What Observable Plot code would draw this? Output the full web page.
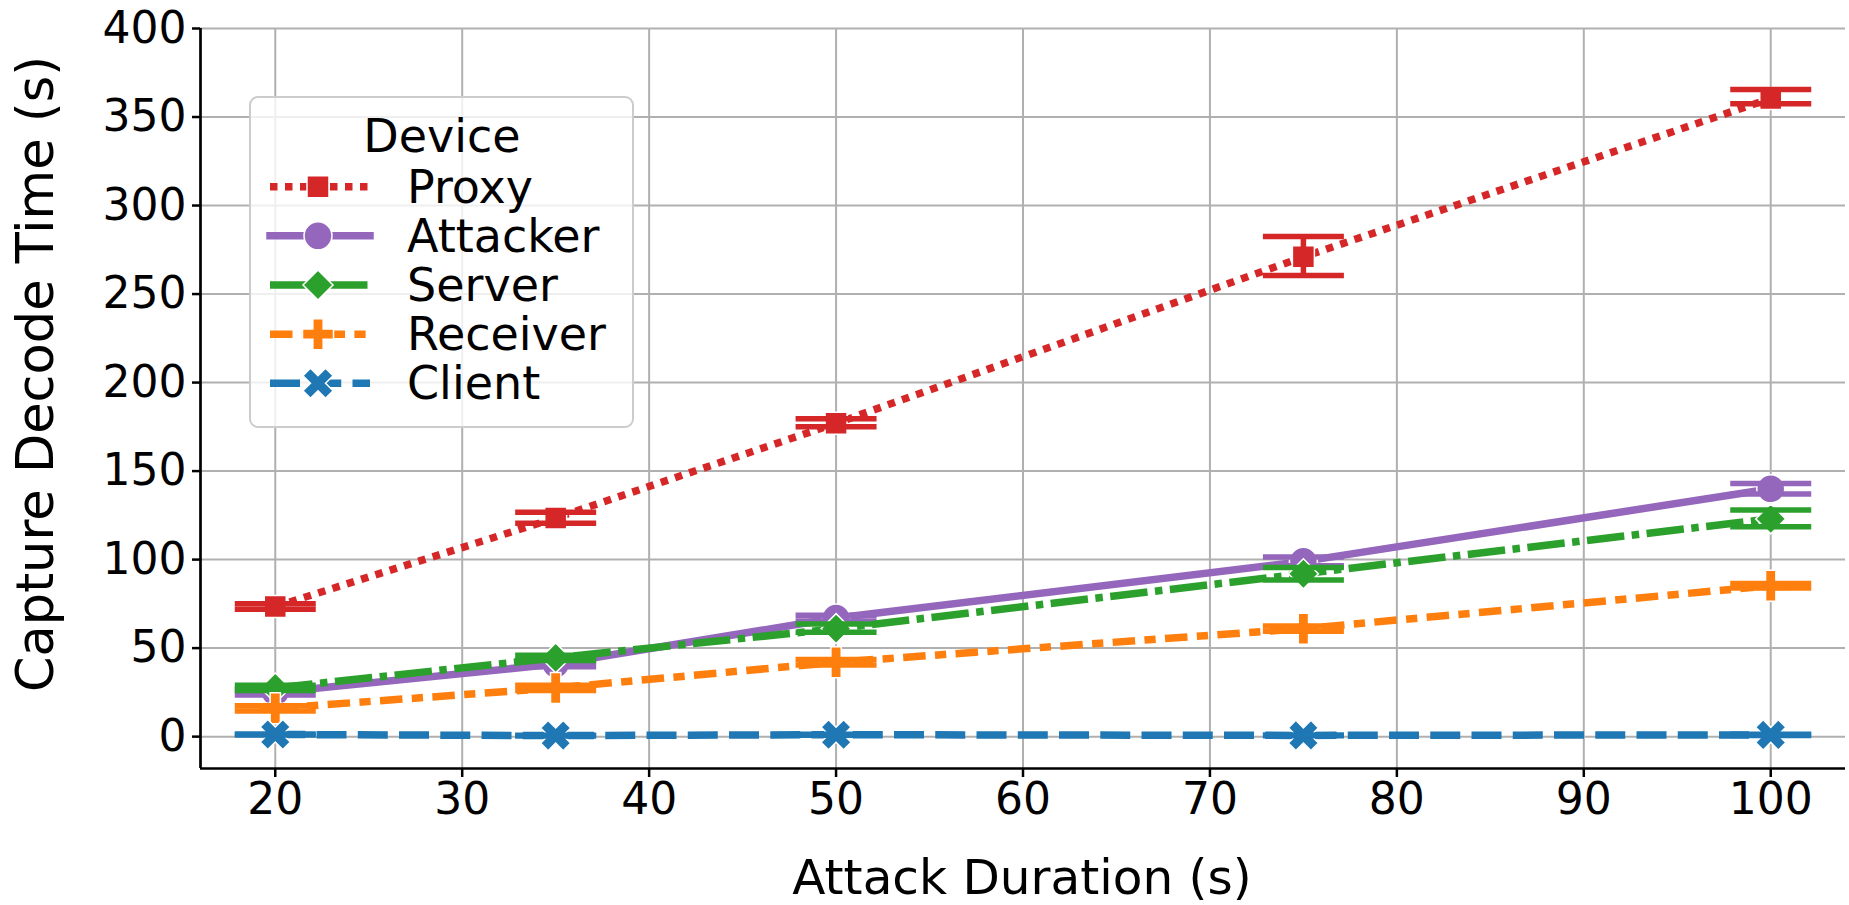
<!DOCTYPE html>
<html><head><meta charset="utf-8">
<script src="https://cdn.jsdelivr.net/npm/d3@7"></script>
<script src="https://cdn.jsdelivr.net/npm/@observablehq/plot@0.6"></script>
<style>
html,body{margin:0;padding:0;background:#fff;}
#chart{position:relative;width:1849px;height:905px;}
</style>
</head><body><div id="chart"></div>
<script>
// ---- data ----
const durations = [20, 35, 50, 75, 100];
const devices = ["Proxy", "Attacker", "Server", "Receiver", "Client"];
const colors = ["#d62728", "#9467bd", "#2ca02c", "#ff7f0e", "#1f77b4"];

const proxyMean    = [73.5, 123.5, 177, 271, 360.5];
const proxyLo      = [72, 120.5, 175, 260.5, 357.5];
const proxyHi      = [75, 126.7, 179.5, 282.5, 365.5];
const attackerMean = [25, 41, 67, 99, 140];
const attackerLo   = [23.5, 39.5, 65.3, 96.5, 137];
const attackerHi   = [26.5, 42.5, 68.5, 101.5, 143];
const serverMean   = [27.5, 44.5, 61, 92, 123];
const serverLo     = [26, 43, 58.9, 88.5, 118.6];
const serverHi     = [29, 46, 63.6, 95.6, 128];
const receiverMean = [16, 27.5, 42, 61, 85.2];
const receiverLo   = [14.5, 26, 40.5, 59.5, 84];
const receiverHi   = [17.5, 29, 43.5, 62.5, 86.5];
const clientMean   = [1.2, 0.6, 1.1, 0.7, 1.0];
const clientLo     = [0.9, 0.4, 0.8, 0.5, 0.7];
const clientHi     = [1.5, 0.8, 1.4, 0.9, 1.3];

const xTicks = [20, 30, 40, 50, 60, 70, 80, 90, 100];
const yTicks = [0, 50, 100, 150, 200, 250, 300, 350, 400];
const xLabel = "Attack Duration (s)";
const yLabel = "Capture Decode Time (s)";
const legendTitle = "Device";

// ---- styles ----
function poly(pts) {
  return {draw(ctx, size) {
    const r = Math.sqrt(size / Math.PI);
    pts.forEach(([a, b], i) => i ? ctx.lineTo(a * r, b * r) : ctx.moveTo(a * r, b * r));
    ctx.closePath();
  }};
}
const plusPts = [[-1,-3],[1,-3],[1,-1],[3,-1],[3,1],[1,1],[1,3],[-1,3],[-1,1],[-3,1],[-3,-1],[-1,-1]].map(([a,b]) => [a/3, b/3]);
const c45 = Math.SQRT1_2;
const xPts = plusPts.map(([a, b]) => [(a - b) * c45, (a + b) * c45]);
const symCircle = {draw(ctx, size) { const r = Math.sqrt(size / Math.PI); ctx.moveTo(r, 0); ctx.arc(0, 0, r, 0, 2 * Math.PI); }};
const symSquare = poly([[-1,-1],[1,-1],[1,1],[-1,1]]);
const symDiamond = poly([[0,-1],[1,0],[0,1],[-1,0]]);
const symPlus = poly(plusPts);
const symX = poly(xPts);
const symCap = {draw(ctx, size) { const r = Math.sqrt(size / Math.PI); ctx.moveTo(-r, 0); ctx.lineTo(r, 0); }};

const LW = 7.5, ELW = 5.5, CAP = 40.5;
const dashOf = (pat) => pat ? pat.map(v => v * LW).join(",") : null;
const styles = {
  Proxy:    {dash: dashOf([1, 1]),               symbol: symSquare,  r: 11},
  Attacker: {dash: null,                         symbol: symCircle,  r: 14},
  Server:   {dash: dashOf([5, 1, 1, 1]),         symbol: symDiamond, r: 15},
  Receiver: {dash: dashOf([3, 1.25, 1.5, 1.25]), symbol: symPlus,    r: 15.5},
  Client:   {dash: dashOf([4, 1.5]),             symbol: symX,       r: 16}
};
const FONT = "DejaVu Sans";

const means = [proxyMean, attackerMean, serverMean, receiverMean, clientMean];
const los = [proxyLo, attackerLo, serverLo, receiverLo, clientLo];
const his = [proxyHi, attackerHi, serverHi, receiverHi, clientHi];

const series = devices.map((name, i) => ({
  name, color: colors[i],
  rows: durations.map((x, j) => ({x, y: means[i][j], lo: los[i][j], hi: his[i][j]}))
}));

const marks = [
  Plot.gridX(xTicks, {stroke: "#b0b0b0", strokeOpacity: 1, strokeWidth: 2}),
  Plot.gridY(yTicks, {stroke: "#b0b0b0", strokeOpacity: 1, strokeWidth: 2})
];
for (const s of series) {
  const st = styles[s.name];
  marks.push(Plot.line(s.rows, {x: "x", y: "y", stroke: s.color, strokeWidth: LW,
    strokeDasharray: st.dash || undefined, strokeLinecap: st.dash ? "butt" : "square", strokeLinejoin: "round"}));
  marks.push(Plot.dot(s.rows, {x: "x", y: "y", symbol: st.symbol, r: st.r, fill: s.color, stroke: "white", strokeWidth: 1.5}));
  marks.push(Plot.ruleX(s.rows, {x: "x", y1: "lo", y2: "hi", stroke: s.color, strokeWidth: ELW}));
  marks.push(Plot.dot(s.rows, {x: "x", y: "lo", symbol: symCap, r: CAP, fill: "none", stroke: s.color, strokeWidth: ELW}));
  marks.push(Plot.dot(s.rows, {x: "x", y: "hi", symbol: symCap, r: CAP, fill: "none", stroke: s.color, strokeWidth: ELW}));
}
marks.push(
  Plot.ruleX([16], {stroke: "black", strokeWidth: 2.7}),
  Plot.ruleY([-18], {stroke: "black", strokeWidth: 2.7}),
  Plot.axisX({ticks: xTicks, tickSize: 9, tickPadding: 5, strokeWidth: 2.5, fontSize: 44, label: null}),
  Plot.axisY({ticks: yTicks, tickSize: 8, tickPadding: 6, strokeWidth: 2.5, fontSize: 44, label: null})
);

const chart = Plot.plot({
  width: 1849, height: 905,
  marginLeft: 200, marginRight: 4, marginTop: 28, marginBottom: 137,
  x: {domain: [16, 104]},
  y: {domain: [-18, 400]},
  style: {fontFamily: FONT, fontSize: "44px", color: "black", background: "white", overflow: "visible"},
  marks
});
document.getElementById("chart").appendChild(chart);

// axis titles
const svg = d3.select(chart);
svg.append("text").attr("x", 1022).attr("y", 894).attr("text-anchor", "middle")
  .attr("font-family", FONT).attr("font-size", 48.5).attr("fill", "black").text(xLabel);
svg.append("text").attr("transform", "translate(53,374) rotate(-90)").attr("text-anchor", "middle")
  .attr("font-family", FONT).attr("font-size", 51).attr("fill", "black").text(yLabel);

// legend
const lg = svg.append("g");
lg.append("rect").attr("x", 250).attr("y", 97).attr("width", 383).attr("height", 330).attr("rx", 8)
  .attr("fill", "white").attr("fill-opacity", 0.8).attr("stroke", "#cccccc").attr("stroke-width", 2);
lg.append("text").attr("x", 442).attr("y", 152).attr("text-anchor", "middle")
  .attr("font-family", FONT).attr("font-size", 46).attr("fill", "black").text(legendTitle);
series.forEach((s, i) => {
  const st = styles[s.name];
  const cy = 186.7 + i * 49.15;
  const ln = lg.append("line").attr("x1", 270).attr("x2", 370).attr("y1", cy).attr("y2", cy)
    .attr("stroke", s.color).attr("stroke-width", LW).attr("stroke-linecap", st.dash ? "butt" : "square");
  if (st.dash) ln.attr("stroke-dasharray", st.dash);
  lg.append("path").attr("transform", `translate(318,${cy})`)
    .attr("d", d3.symbol(st.symbol, Math.PI * st.r * st.r)())
    .attr("fill", s.color).attr("stroke", "white").attr("stroke-width", 1.5);
  lg.append("text").attr("x", 407).attr("y", cy + 16).attr("text-anchor", "start")
    .attr("font-family", FONT).attr("font-size", 46).attr("fill", "black").text(s.name);
});
</script>
</body></html>
